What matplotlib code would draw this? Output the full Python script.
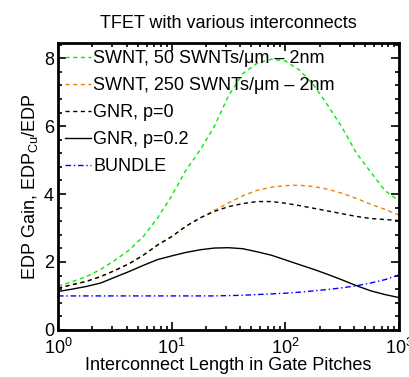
import matplotlib
matplotlib.use("Agg")
import matplotlib.pyplot as plt
from matplotlib.ticker import AutoMinorLocator, LogLocator, NullFormatter

plt.rcParams["font.family"] = ["Liberation Sans", "DejaVu Sans"]
plt.rcParams["mathtext.fontset"] = "custom"
plt.rcParams["mathtext.rm"] = "Liberation Sans"
plt.rcParams["mathtext.it"] = "Liberation Sans:italic"

# ---------------------------------------------------------------
# data
# ---------------------------------------------------------------
length = [1, 1.33, 1.78, 2.37, 3.16, 4.22, 5.62, 7.5, 10, 13.3, 17.8, 23.7,
          31.6, 42.2, 56.2, 75, 100, 133, 178, 237, 316, 422, 562, 750, 1000]

swnt_50 = [1.29, 1.42, 1.57, 1.78, 2.05, 2.35, 2.75, 3.3, 3.95, 4.7, 5.3, 6.0,
           6.9, 7.55, 7.85, 7.97, 7.92, 7.65, 7.2, 6.6, 5.95, 5.2, 4.65, 4.1, 3.8]
swnt_250 = [1.23, 1.33, 1.43, 1.57, 1.75, 1.95, 2.2, 2.5, 2.75, 3.05, 3.3, 3.52,
            3.74, 3.95, 4.11, 4.2, 4.25, 4.26, 4.22, 4.14, 4.02, 3.87, 3.7, 3.55, 3.38]
gnr_p0 = [1.23, 1.33, 1.43, 1.57, 1.75, 1.95, 2.2, 2.5, 2.75, 3.05, 3.3, 3.49,
          3.63, 3.72, 3.78, 3.78, 3.73, 3.66, 3.58, 3.5, 3.42, 3.34, 3.28, 3.25, 3.22]
gnr_p02 = [1.13, 1.2, 1.28, 1.38, 1.55, 1.72, 1.9, 2.07, 2.18, 2.28, 2.36, 2.41,
           2.42, 2.39, 2.3, 2.2, 2.06, 1.92, 1.78, 1.63, 1.47, 1.3, 1.15, 1.04, 0.95]
bundle = [1.0, 1.0, 1.0, 1.0, 1.0, 1.0, 1.0, 1.0, 1.0, 1.0, 1.0, 1.0,
          1.01, 1.02, 1.04, 1.06, 1.08, 1.11, 1.15, 1.19, 1.24, 1.3, 1.38, 1.48, 1.62]

labels = ["SWNT, 50 SWNTs/\u03bcm \u2013 2nm", "SWNT, 250 SWNTs/\u03bcm \u2013 2nm",
          "GNR, p=0", "GNR, p=0.2", "BUNDLE"]

# ---------------------------------------------------------------
# chart
# ---------------------------------------------------------------
fig = plt.figure(figsize=(4.09, 3.77), dpi=100)
ax = fig.add_axes([0.142, 0.125, 0.834, 0.761])

ax.plot(length, swnt_50, color="#00ee00", lw=1.0, dashes=(3, 2.5), label=labels[0])
ax.plot(length, swnt_250, color="#e8850a", lw=1.0, dashes=(3, 2.5), label=labels[1])
ax.plot(length, gnr_p0, color="black", lw=1.0, dashes=(3, 2.5), label=labels[2])
ax.plot(length, gnr_p02, color="black", lw=1.0, label=labels[3])
ax.plot(length, bundle, color="#0000ff", lw=1.0, dashes=(4, 2, 1, 2), label=labels[4])

ax.set_xscale("log")
ax.set_xlim(1, 1000)
ax.set_ylim(0, 8.45)
ax.set_yticks([0, 2, 4, 6, 8])
ax.yaxis.set_minor_locator(AutoMinorLocator(5))
ax.xaxis.set_major_locator(LogLocator(base=10, numticks=10))
ax.xaxis.set_minor_locator(LogLocator(base=10, subs=range(2, 10), numticks=20))
ax.xaxis.set_minor_formatter(NullFormatter())

ax.tick_params(which="both", direction="in", top=True, right=True, width=1.2)
ax.tick_params(which="major", length=6, labelsize=13, pad=3)
ax.tick_params(axis="x", which="major", pad=6)
ax.tick_params(which="minor", length=3)
for sp in ax.spines.values():
    sp.set_linewidth(2)

ax.set_title("TFET with various interconnects", fontsize=13, pad=11)
ax.set_xlabel("Interconnect Length in Gate Pitches", fontsize=13, labelpad=-1)
ax.set_ylabel("EDP Gain, EDP$_{\\mathrm{Cu}}$/EDP", fontsize=13, labelpad=3)

ax.legend(loc="upper left", frameon=False, fontsize=13, handlelength=1.4,
          handletextpad=0.15, labelspacing=0.55, borderaxespad=0.2,
          borderpad=0.2)

fig.savefig("out.png", dpi=100)
